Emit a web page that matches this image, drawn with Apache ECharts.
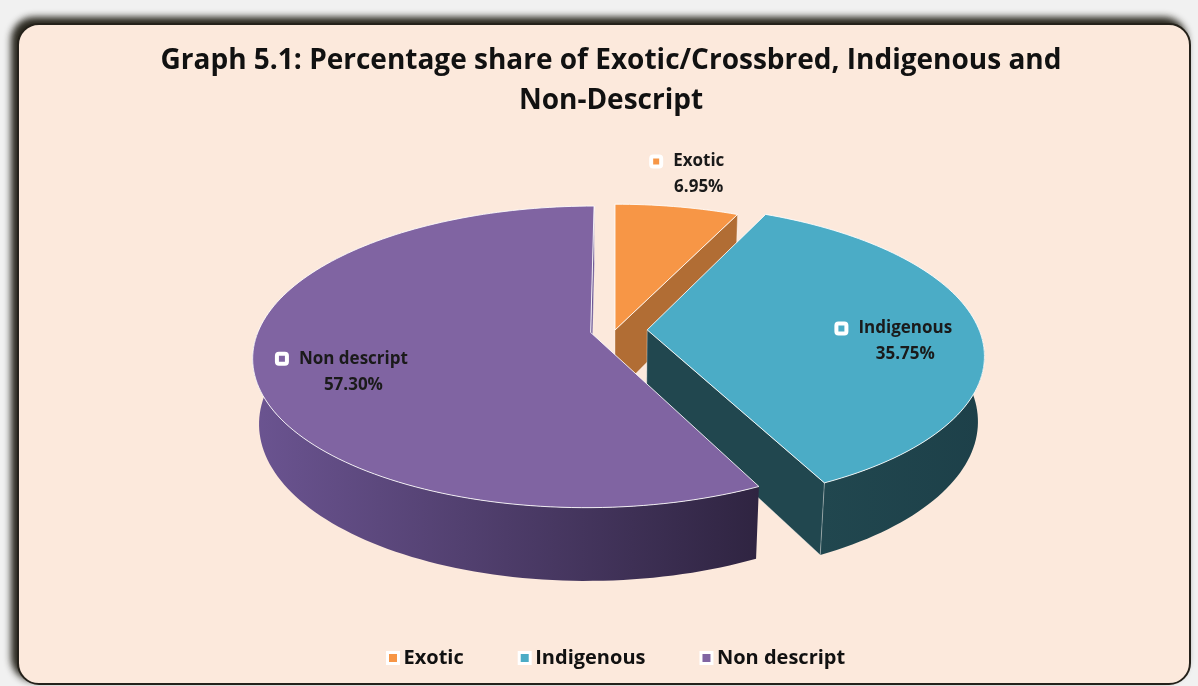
<!DOCTYPE html>
<html>
<head>
<meta charset="utf-8">
<script src="https://cdn.jsdelivr.net/npm/echarts@6/dist/echarts.min.js"></script>
<style>
html, body { margin: 0; padding: 0; width: 1198px; height: 686px; overflow: hidden; background: #f1f1f1; }
#card { position: absolute; left: 17px; top: 23px; width: 1170px; height: 658px; border: 2px solid #24211a; border-radius: 22px; background: #fce9dc; box-shadow: -5px -5px 7px 1px rgba(30, 27, 18, 0.95); }
#main { position: absolute; left: 0; top: 0; width: 1198px; height: 686px; }
</style>
</head>
<body>
<div id="card"></div>
<div id="main"></div>
<script>
// data
var categories = ['Exotic', 'Indigenous', 'Non descript'];
var shares = [6.95, 35.75, 57.30];
var shareLabels = ['6.95%', '35.75%', '57.30%'];

// looks
var topColors = ['#f79646', '#4bacc6', '#8064a2'];
var sideColors = [['#b16d34', '#a9652f'], ['#21474f', '#1d4049'], ['#6b5491', '#2f2441']];
var explode = [0, 0.097, 0.075];
var labelR = [1.3, 0.77, 0.73];
var labelShift = [1, 7.5, -8.5];

// 3d view of the pie (units of radius)
var S = 332, CX = 615, CY = 330;
var TILT = 26.1 * Math.PI / 180, DIST = 5.574, DEPTH = 0.22;
var sinT = Math.sin(TILT), cosT = Math.cos(TILT);

function proj(x, y, z) {
  var yv = z * sinT + y * cosT;
  var zv = z * cosT - y * sinT;
  var k = DIST / (DIST + zv);
  return [x * k, yv * k];
}

var total = shares.reduce(function(a, b) { return a + b; }, 0);
var starts = [], sweeps = [];
var acc = 0;
shares.forEach(function(v) {
  starts.push(acc / total * Math.PI * 2);
  sweeps.push(v / total * Math.PI * 2);
  acc += v;
});

var FONT = '"Open Sans", Lato, sans-serif';
var measureCtx = document.createElement('canvas').getContext('2d');
function textWidth(t, font) {
  measureCtx.font = font;
  return measureCtx.measureText(t).width;
}

function renderSlice(params, api) {
  var i = params.seriesIndex;
  var a0 = starts[i], a1 = starts[i] + sweeps[i];
  var mid = (a0 + a1) / 2;
  var ox = explode[i] * Math.sin(mid), oz = explode[i] * Math.cos(mid);
  function pt(r, a, y) {
    return api.coord(proj(ox + r * Math.sin(a), y, oz + r * Math.cos(a)));
  }
  function arc(from, to, y) {
    var n = Math.max(2, Math.ceil(Math.abs(to - from) / (Math.PI / 120)));
    var out = [];
    for (var k = 0; k <= n; k++) out.push(pt(1, from + (to - from) * k / n, y));
    return out;
  }
  var children = [];
  // outer wall, front half only
  var w0 = Math.max(a0, Math.PI / 2), w1 = Math.min(a1, Math.PI * 1.5);
  if (w1 > w0) {
    children.push({
      type: 'polygon',
      shape: { points: arc(w0, w1, 0).concat(arc(w1, w0, -DEPTH)) },
      style: {
        fill: new echarts.graphic.LinearGradient(0, 0, 1, 0, [
          { offset: 0, color: sideColors[i][0] },
          { offset: 1, color: sideColors[i][1] }
        ])
      }
    });
  }
  // cut faces that look toward the camera
  var Dc = DIST * cosT;
  var faces = [
    [a0, Math.cos(a0) * ox - Math.sin(a0) * (Dc + oz) > 0],
    [a1, -Math.cos(a1) * ox + Math.sin(a1) * (Dc + oz) > 0]
  ];
  faces.forEach(function(f) {
    if (!f[1]) return;
    children.push({
      type: 'polygon',
      shape: { points: [pt(0, 0, 0), pt(1, f[0], 0), pt(1, f[0], -DEPTH), pt(0, 0, -DEPTH)] },
      style: { fill: sideColors[i][0], stroke: 'rgba(255,255,255,0.45)', lineWidth: 0.8 }
    });
  });
  // top
  children.push({
    type: 'polygon',
    shape: { points: [pt(0, 0, 0)].concat(arc(a0, a1, 0)) },
    style: { fill: topColors[i], stroke: 'rgba(255,255,255,0.85)', lineWidth: 1 }
  });
  // label
  var la = mid + labelShift[i] * Math.PI / 180;
  var lp = pt(labelR[i], la, 0);
  var font = 'bold 17px ' + FONT;
  var w = textWidth(categories[i], font);
  children.push({
    type: 'rect',
    shape: { x: lp[0] - w / 2 - 22, y: lp[1] - 20, width: 10, height: 10, r: 2 },
    style: { fill: topColors[i], stroke: '#fff', lineWidth: 4 },
    z2: 50
  });
  children.push({
    type: 'text', x: lp[0], y: lp[1] - 15, z2: 50,
    style: { text: categories[i], font: font, fill: '#1a1a1a', align: 'center', verticalAlign: 'middle' }
  });
  children.push({
    type: 'text', x: lp[0], y: lp[1] + 11, z2: 50,
    style: { text: shareLabels[i], font: font, fill: '#1a1a1a', align: 'center', verticalAlign: 'middle' }
  });
  return { type: 'group', children: children };
}

var myChart = echarts.init(document.getElementById('main'));
myChart.setOption({
  animation: false,
  title: {
    text: 'Graph 5.1: Percentage share of Exotic/Crossbred, Indigenous and\nNon-Descript',
    left: 606,
    top: 36,
    textAlign: 'center',
    textStyle: { fontFamily: FONT, fontWeight: 'bold', fontSize: 28, lineHeight: 40, color: '#111' }
  },
  legend: {
    data: categories,
    left: 381,
    top: 643,
    icon: 'rect',
    itemWidth: 11,
    itemHeight: 11,
    itemGap: 54,
    itemStyle: { borderColor: '#fff', borderWidth: 3 },
    textStyle: { fontFamily: FONT, fontWeight: 'bold', fontSize: 20, color: '#111' }
  },
  grid: { left: CX - 1.2 * S, width: 2.4 * S, top: CY - 0.5 * S, height: 1.4 * S },
  xAxis: { type: 'value', min: -1.2, max: 1.2, show: false },
  yAxis: { type: 'value', min: -0.9, max: 0.5, show: false },
  series: categories.map(function(name, i) {
    return {
      name: name,
      type: 'custom',
      clip: false,
      silent: true,
      itemStyle: { color: topColors[i] },
      renderItem: renderSlice,
      data: [[0, 0, shares[i]]]
    };
  })
});
</script>
</body>
</html>
